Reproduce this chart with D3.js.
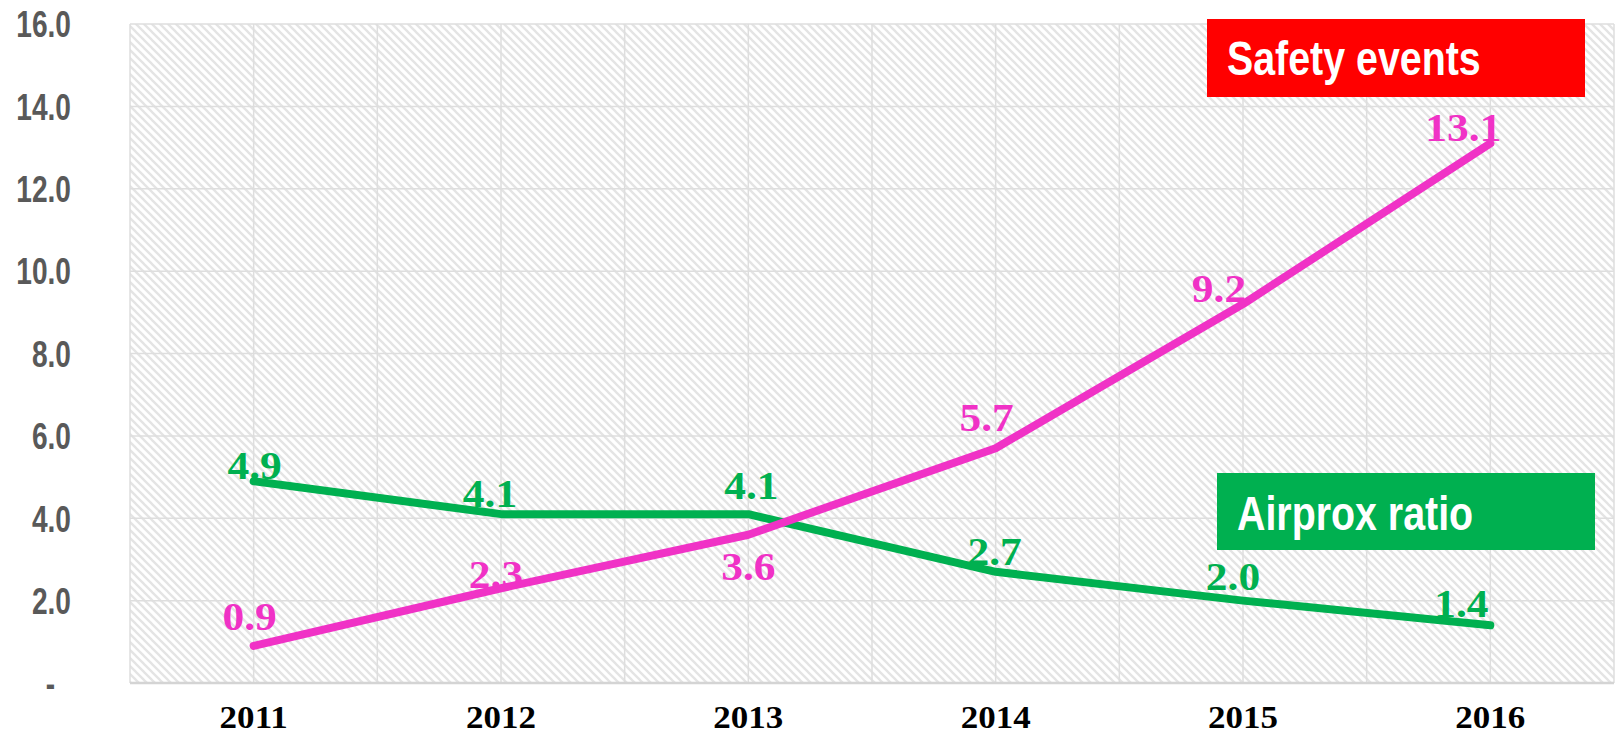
<!DOCTYPE html>
<head>
<meta charset="utf-8">
<title>Safety events vs Airprox ratio</title>
<style>
body {
  margin: 0;
  padding: 0;
  background: #fff;
}
.ytick {
  font-family: "Liberation Sans", Arial, sans-serif;
  font-weight: bold;
  font-size: 37px;
  fill: #595959;
}
.xtick {
  font-family: "Liberation Serif", Cambria, serif;
  font-weight: bold;
  font-size: 31px;
  fill: #000;
}
.dlabel {
  font-family: "Liberation Serif", Cambria, serif;
  font-weight: bold;
  font-size: 41px;
}
.legend-text {
  font-family: "Liberation Sans", Arial, sans-serif;
  font-weight: bold;
  font-size: 48px;
  fill: #fff;
}
</style>
</head>
<body>
<svg id="viz" width="1616" height="735"></svg>
<script src="https://d3js.org/d3.v7.min.js"></script>
<script>

var years = ['2011', '2012', '2013', '2014', '2015', '2016']
var safetyEvents = [0.9, 2.3, 3.6, 5.7, 9.2, 13.1]
var airproxRatio = [4.9, 4.1, 4.1, 2.7, 2.0, 1.4]
var yTicks = [0, 2, 4, 6, 8, 10, 12, 14, 16]

// hand placed label nudges (dx, dy from the point), like the original
var safetyNudge = [[-4, -16], [-5, 0], [0, 45], [-9, -17], [-24, -2], [-27, -2]]
var airproxNudge = [[1, -2], [-11, -7], [3, -15], [-1, -7], [-10, -11], [-29, -8]]

var pink = '#f032c6'
var green = '#00b050'
var narrow = 0.76  // no Arial Narrow here, squeeze Liberation Sans instead

var svg = d3.select('#viz')
var plotL = 130, plotR = 1614, plotT = 24, plotB = 683

var x = d3.scaleBand().domain(years).range([plotL, plotR])
var y = d3.scaleLinear().domain([0, 16]).range([plotB, plotT])
var cx = function(d) { return x(d) + x.bandwidth() / 2 }

var defs = svg.append('defs')
var pat = defs.append('pattern')
    .attr('id', 'hatch')
    .attr('patternUnits', 'userSpaceOnUse')
    .attr('width', 8)
    .attr('height', 8)
pat.append('rect').attr('width', 8).attr('height', 8).attr('fill', '#fff')
pat.append('path')
    .attr('d', 'M-2,-2 L10,10 M-2,6 L2,10 M6,-2 L10,2')
    .attr('stroke', '#e4e4e4')
    .attr('stroke-width', 2.3)

svg.append('rect')
    .attr('x', plotL)
    .attr('y', plotT)
    .attr('width', plotR - plotL)
    .attr('height', plotB - plotT)
    .attr('fill', 'url(#hatch)')

// grid
var grid = svg.append('g').attr('stroke', '#dedede').attr('stroke-width', 1.5)
grid.selectAll('.hg')
    .data(yTicks)
    .enter().append('line')
      .attr('x1', plotL).attr('x2', plotR)
      .attr('y1', function(d) { return y(d) })
      .attr('y2', function(d) { return y(d) })

var vx = []
years.forEach(function(d) { vx.push(x(d)); vx.push(cx(d)) })
vx.push(plotR)
grid.selectAll('.vg')
    .data(vx)
    .enter().append('line')
      .attr('x1', function(d) { return d }).attr('x2', function(d) { return d })
      .attr('y1', plotT).attr('y2', plotB)

svg.append('line')
    .attr('x1', plotL).attr('x2', plotR)
    .attr('y1', plotB).attr('y2', plotB)
    .attr('stroke', '#d4d4d4')
    .attr('stroke-width', 2.5)

// y labels
svg.selectAll('.ytick')
    .data(yTicks)
    .enter().append('text')
      .attr('class', 'ytick')
      .attr('transform', function(d) {
        return 'translate(' + (d === 0 ? 55 : 71) + ',' + y(d) + ') scale(' + narrow + ',1)'
      })
      .attr('dy', '0.36em')
      .attr('text-anchor', 'end')
      .text(function(d) { return d === 0 ? '-' : d3.format('.1f')(d) })

// x labels
svg.selectAll('.xtick')
    .data(years)
    .enter().append('text')
      .attr('class', 'xtick')
      .attr('transform', function(d) { return 'translate(' + cx(d) + ',728) scale(1.13,1)' })
      .attr('text-anchor', 'middle')
      .text(function(d) { return d })

function drawSeries(values, color) {
  var pts = years.map(function(d, i) { return [cx(d), y(values[i])] })
  svg.append('path')
      .datum(pts)
      .attr('d', d3.line())
      .attr('fill', 'none')
      .attr('stroke', color)
      .attr('stroke-width', 8)
      .attr('stroke-linecap', 'round')
      .attr('stroke-linejoin', 'round')
  return pts
}

var gp = drawSeries(airproxRatio, green)
var pp = drawSeries(safetyEvents, pink)

function drawLabels(values, pts, color, nudge) {
  svg.append('g').selectAll('text')
      .data(values)
      .enter().append('text')
        .attr('class', 'dlabel')
        .attr('fill', color)
        .attr('text-anchor', 'middle')
        .attr('transform', function(d, i) {
          return 'translate(' + (pts[i][0] + nudge[i][0]) + ',' + (pts[i][1] + nudge[i][1]) + ') scale(1.06,1)'
        })
        .text(function(d) { return d3.format('.1f')(d) })
}
drawLabels(airproxRatio, gp, green, airproxNudge)
drawLabels(safetyEvents, pp, pink, safetyNudge)

// legend boxes
svg.append('rect').attr('x', 1207).attr('y', 19).attr('width', 378).attr('height', 78).attr('fill', '#ff0000')
svg.append('text').attr('class', 'legend-text')
    .attr('transform', 'translate(1227,75) scale(0.82,1)')
    .text('Safety events')
svg.append('rect').attr('x', 1217).attr('y', 473).attr('width', 378).attr('height', 77).attr('fill', green)
svg.append('text').attr('class', 'legend-text')
    .attr('transform', 'translate(1237,530) scale(0.82,1)')
    .text('Airprox ratio')

</script>
</body>
</html>
